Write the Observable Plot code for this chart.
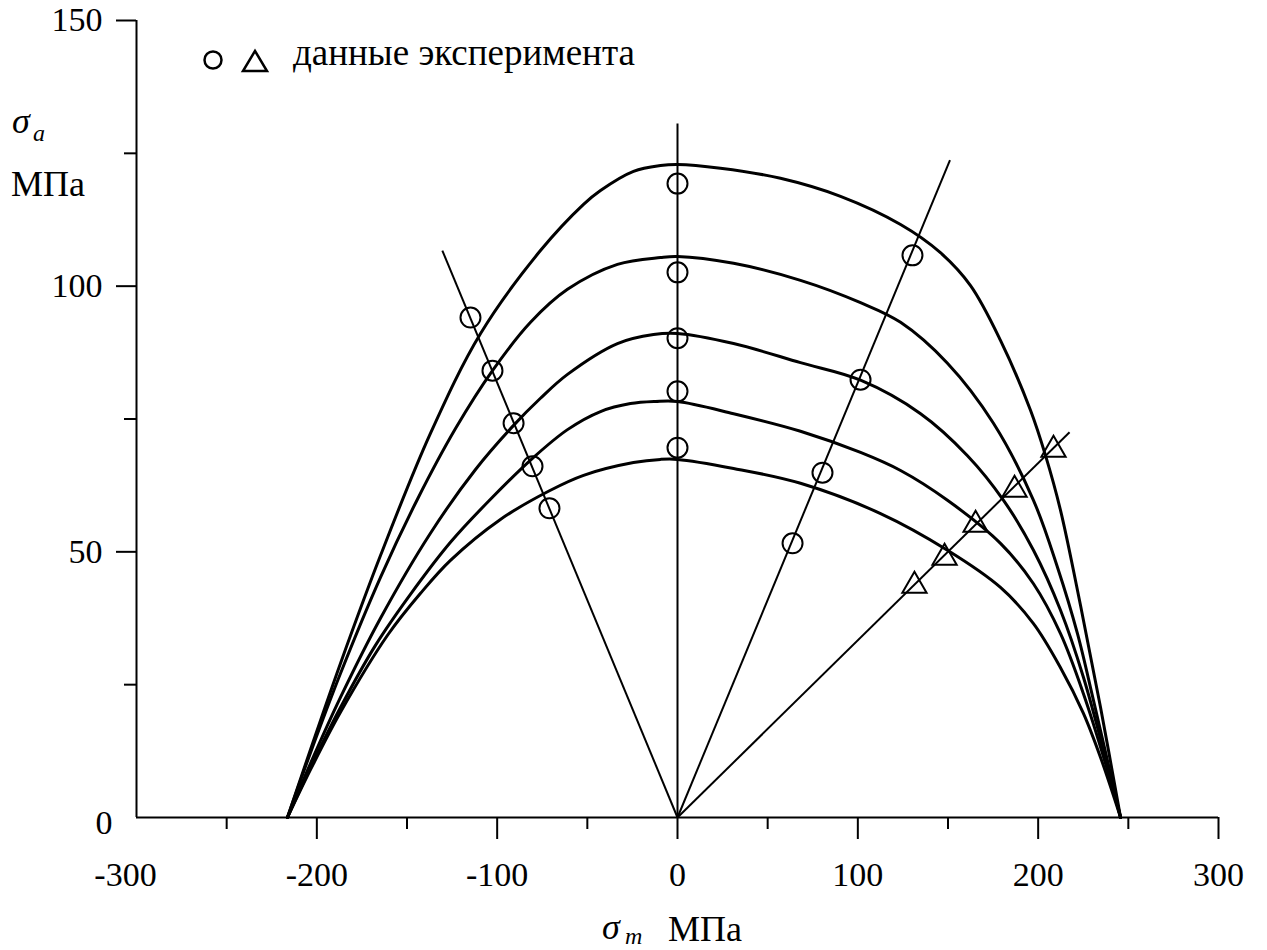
<!DOCTYPE html>
<html>
<head>
<meta charset="utf-8">
<script src="https://cdn.jsdelivr.net/npm/d3@7"></script>
<script src="https://cdn.jsdelivr.net/npm/@observablehq/plot@0.6"></script>
<style>
  body { margin: 0; background: #fff; }
  #chart { width: 1267px; height: 950px; }
</style>
</head>
<body>
<div id="chart"></div>
<script>
// Axis ticks (σm in MPa along x, σa in MPa along y)
const xLabelTicks = [-200, -100, 0, 100, 200, 300];
const xFirstLabel = [-300];
const xMajorTicks = [-200, -100, 0, 100, 200, 300];
const xMinorTicks = [-250, -150, -50, 50, 150, 250];
const yLabelTicks = [50, 100, 150];
const yZeroLabel = [0];
const yMinorTicks = [25, 75, 125];

// Constant-life curves, [σm, σa] in MPa, from the highest to the lowest
const curveA = [[-216.3,0],[-203.5,12.8],[-186.9,29.0],[-164.7,49.3],[-137.0,72.3],[-109.2,91.1],[-76.0,106.7],[-52.1,115.4],[-42.7,118.0],[-24.4,121.6],[-9.4,122.7],[0,122.9],[23.8,122.2],[57.1,120.3],[90.4,116.9],[123.7,111.6],[145.8,106.3],[162.5,100.1],[179.1,89.8],[195.8,76.6],[204.1,68.1],[212.4,57.8],[223.5,39.9],[234.6,20.7],[245.7,0]];
const curveB = [[-216.3,0],[-203.5,12.2],[-186.9,27.1],[-164.7,45.2],[-144.2,59.9],[-123.1,73.2],[-102.6,84.1],[-81.5,93.2],[-61.0,99.4],[-33.3,104.1],[-9.4,105.4],[0,105.6],[31.1,104.3],[68.2,101.1],[101.5,96.9],[123.7,93.2],[149.7,85.5],[175.2,74.2],[197.4,59.7],[210.7,47.1],[221.8,34.6],[230.7,22.0],[245.7,0]];
const curveC = [[-216.3,0],[-203.5,10.2],[-186.9,22.6],[-164.7,37.5],[-137.0,53.5],[-112.0,65.5],[-90.9,73.8],[-76.0,78.9],[-61.0,83.4],[-33.3,89.2],[-13.3,90.9],[0,91.1],[31.1,89.2],[68.2,85.6],[101.5,82.3],[134.8,76.0],[160.8,68.1],[180.8,59.7],[197.4,50.3],[212.4,39.0],[225.1,26.4],[237.3,11.3],[245.7,0]];
const curveD = [[-216.3,0],[-203.5,9.4],[-186.9,20.7],[-167.5,32.4],[-148.1,42.0],[-125.9,51.8],[-103.7,59.9],[-80.4,67.6],[-61.0,73.0],[-42.7,76.4],[-26.1,77.9],[-12.2,78.3],[0,78.3],[31.1,76.0],[68.2,72.7],[101.5,68.7],[123.7,65.3],[149.7,59.7],[179.1,51.6],[197.4,44.0],[212.4,34.6],[225.1,23.3],[237.3,10.2],[245.7,0]];
const curveE = [[-216.3,0],[-203.5,9.0],[-186.9,19.8],[-160.8,34.3],[-142.5,42.2],[-125.9,48.4],[-98.2,56.1],[-71.0,61.5],[-52.1,64.4],[-24.4,66.8],[-9.4,67.4],[0,67.4],[31.1,65.7],[68.2,62.9],[112.6,57.2],[149.7,50.3],[179.1,43.3],[197.4,36.5],[212.4,28.2],[225.1,19.6],[234.6,11.3],[245.7,0]];
const curves = [curveA, curveB, curveC, curveD, curveE];

// Loading rays from the origin (stress ratios R = 10, -1, 0.1, 0.5): far end [σm, σa]
const rayEnds = [[-130.4,106.7],[0,130.6],[151.1,123.7],[217.4,72.5]];

// Experimental points
const circlesR10 = [[-114.8,94.1],[-102.6,84.1],[-90.9,74.2],[-80.4,66.1],[-71.0,58.2]];
const circlesRm1 = [[0,119.3],[0,102.6],[0,90.2],[0,80.2],[0,69.6]];
const circlesR01 = [[130.3,105.8],[101.5,82.4],[80.4,64.9],[63.8,51.6]];
const trianglesR05 = [[208.5,69.2],[186.9,61.7],[165.3,55.1],[148.1,48.9],[131.4,43.6]];

const FONT = '"Liberation Serif", "Times New Roman", serif';

const curveRows = curves.flatMap((c, i) => c.map(([x, y]) => ({x, y, k: i})));
const rayRows = rayEnds.map(([x, y]) => ({x1: 0, y1: 0, x2: x, y2: y}));
const circleRows = [...circlesR10, ...circlesRm1, ...circlesR01].map(([x, y]) => ({x, y}));
const triangleRows = trianglesR05.map(([x, y]) => ({x, y}));

const plot = Plot.plot({
  width: 1267,
  height: 950,
  marginLeft: 136,
  marginRight: 49,
  marginTop: 20,
  marginBottom: 133,
  x: {domain: [-300, 300], label: null},
  y: {domain: [0, 150], label: null},
  style: {fontFamily: FONT, background: "#fff", color: "#000", overflow: "visible"},
  marks: [
    // frame lines
    Plot.ruleY([0], {x1: -300, x2: 300, stroke: "#000", strokeWidth: 2}),
    Plot.ruleX([-300], {y1: 0, y2: 150, stroke: "#000", strokeWidth: 2}),
    // x ticks and labels
    Plot.axisX(xMajorTicks, {tickSize: 22, tickFormat: () => "", strokeWidth: 2, label: null}),
    Plot.axisX(xMinorTicks, {tickSize: 12, tickFormat: () => "", strokeWidth: 2, label: null}),
    Plot.axisX(xLabelTicks, {tickSize: 0, tickPadding: 44, fontSize: 34, tickFormat: d => String(d), label: null}),
    Plot.axisX(xFirstLabel, {tickSize: 0, tickPadding: 44, dx: -11, fontSize: 34, tickFormat: d => String(d), label: null}),
    // y ticks and labels
    Plot.axisY(yLabelTicks, {tickSize: 20, tickPadding: 14, fontSize: 34, strokeWidth: 2, tickFormat: d => String(d), label: null}),
    Plot.axisY(yMinorTicks, {tickSize: 12, tickFormat: () => "", strokeWidth: 2, label: null}),
    Plot.axisY(yZeroLabel, {tickSize: 0, tickPadding: 24, dy: 6, fontSize: 34, tickFormat: d => String(d), label: null}),
    // loading rays
    Plot.link(rayRows, {x1: "x1", y1: "y1", x2: "x2", y2: "y2", stroke: "#000", strokeWidth: 2}),
    // constant-life curves
    Plot.line(curveRows, {x: "x", y: "y", z: "k", curve: "catmull-rom", stroke: "#000", strokeWidth: 3}),
    // experimental points
    Plot.dot(circleRows, {x: "x", y: "y", r: 10, symbol: "circle", fill: "none", stroke: "#000", strokeWidth: 2}),
    Plot.dot(triangleRows, {x: "x", y: "y", r: 9, symbol: "triangle", fill: "none", stroke: "#000", strokeWidth: 2})
  ]
});

// Legend and axis titles
const g = d3.select(plot).append("g")
  .attr("font-family", FONT).attr("fill", "#000").attr("text-anchor", "start");
g.append("circle").attr("cx", 213).attr("cy", 60).attr("r", 8.5)
  .attr("fill", "none").attr("stroke", "#000").attr("stroke-width", 2.5);
g.append("path").attr("d", "M255,51L267,71L243,71Z")
  .attr("fill", "none").attr("stroke", "#000").attr("stroke-width", 2.5).attr("stroke-linejoin", "miter");
g.append("text").attr("x", 293).attr("y", 65).attr("font-size", 37).text("данные эксперимента");

g.append("text").attr("x", 12).attr("y", 133).attr("font-size", 36).attr("font-style", "italic").text("σ");
g.append("text").attr("x", 33).attr("y", 141).attr("font-size", 24).attr("font-style", "italic").text("a");
g.append("text").attr("x", 11).attr("y", 196).attr("font-size", 36).text("МПа");

g.append("text").attr("x", 602).attr("y", 939).attr("font-size", 36).attr("font-style", "italic").text("σ");
g.append("text").attr("x", 625).attr("y", 944).attr("font-size", 24).attr("font-style", "italic").text("m");
g.append("text").attr("x", 668).attr("y", 941).attr("font-size", 36).text("МПа");

document.getElementById("chart").appendChild(plot);
</script>
</body>
</html>
